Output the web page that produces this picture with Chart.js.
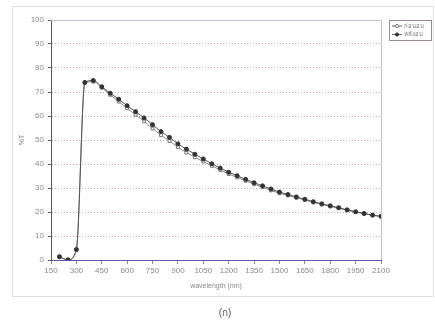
<!DOCTYPE html>
<html>
<head>
<meta charset="utf-8">
<script src="https://cdn.jsdelivr.net/npm/chart.js@4.4.1/dist/chart.umd.min.js"></script>
<style>
  html, body { margin: 0; padding: 0; background: #fff; }
  #wrap { position: relative; width: 435px; height: 320px; }
</style>
</head>
<body>
<div id="wrap"><canvas id="tChart" width="435" height="320"></canvas></div>
<script>
// wavelength (nm)
const wavelengths = [200, 250, 300, 350, 400, 450, 500, 550, 600, 650, 700, 750, 800, 850, 900, 950, 1000,
    1050, 1100, 1150, 1200, 1250, 1300, 1350, 1400, 1450, 1500, 1550, 1600, 1650, 1700, 1750, 1800, 1850,
    1900, 1950, 2000, 2050, 2100];
// %T before baking
const beforeBake = [1.2, 0, 4.2, 73.8, 74.3, 71.8, 68.8, 66.0, 63.2, 60.5, 57.8, 54.8, 52.0, 49.6, 47.0, 44.8, 42.8,
    41.0, 39.2, 37.5, 35.8, 34.4, 33.0, 31.6, 30.3, 29.0, 27.8, 26.9, 25.9, 25.0, 24.0, 23.1, 22.3, 21.6,
    20.7, 20.0, 19.3, 18.6, 18.1];
// %T after baking
const afterBake = [1.4, 0.1, 4.4, 74.0, 74.8, 72.2, 69.5, 67.0, 64.3, 61.8, 59.2, 56.4, 53.5, 51.1, 48.4, 46.2, 44.1,
    42.1, 40.1, 38.3, 36.6, 35.1, 33.6, 32.2, 30.9, 29.6, 28.3, 27.3, 26.3, 25.3, 24.3, 23.4, 22.6, 21.8,
    20.9, 20.1, 19.4, 18.7, 18.2];
const seriesNames = ['ก่อนอบ', 'หลังอบ'];
const xTicks = [150, 300, 450, 600, 750, 900, 1050, 1200, 1350, 1500, 1650, 1800, 1950, 2100];
const yTicks = [0, 10, 20, 30, 40, 50, 60, 70, 80, 90, 100];

const FONT = '"Liberation Sans", "Noto Sans", sans-serif';

function toPoints(ys) {
    return wavelengths.map((w, i) => ({x: w, y: ys[i]}));
}

// frame, plot border, legend and caption
const decor = {
    id: 'decor',
    beforeDraw(chart) {
        const ctx = chart.ctx;
        ctx.save();
        ctx.fillStyle = '#fff';
        ctx.fillRect(0, 0, chart.width, chart.height);
        ctx.strokeStyle = '#c8b8c0';
        ctx.lineWidth = 1;
        ctx.setLineDash([1, 1]);
        ctx.strokeRect(12.5, 6.5, 421, 290);
        ctx.restore();
    },
    afterDatasetsDraw(chart) {
        const ctx = chart.ctx;
        const a = chart.chartArea;
        ctx.save();
        // top and right plot border
        ctx.strokeStyle = '#c6bcd8';
        ctx.lineWidth = 1;
        ctx.beginPath();
        ctx.moveTo(a.left, a.top + 0.5);
        ctx.lineTo(a.right + 0.5, a.top + 0.5);
        ctx.lineTo(a.right + 0.5, a.bottom);
        ctx.stroke();

        // legend box
        const lx = 389, ly = 20, lw = 42, lh = 20;
        ctx.strokeStyle = '#9a8aa0';
        ctx.strokeRect(lx + 0.5, ly + 0.5, lw, lh);
        ctx.font = '6px ' + FONT;
        ctx.textBaseline = 'middle';
        ctx.fillStyle = '#777';
        chart.data.datasets.forEach((ds, i) => {
            const y = ly + 6 + i * 8.5;
            ctx.strokeStyle = '#666';
            ctx.beginPath();
            ctx.moveTo(lx + 3, y);
            ctx.lineTo(lx + 13, y);
            ctx.stroke();
            ctx.beginPath();
            ctx.arc(lx + 8, y, 1.6, 0, Math.PI * 2);
            ctx.fillStyle = ds.pointBackgroundColor;
            ctx.fill();
            ctx.strokeStyle = ds.pointBorderColor;
            ctx.stroke();
            ctx.fillStyle = '#777';
            ctx.fillText(ds.label, lx + 15, y);
        });

        // caption
        ctx.font = '10px ' + FONT;
        ctx.fillStyle = '#555';
        ctx.textAlign = 'center';
        ctx.fillText('(ก)', 225, 313);
        ctx.restore();
    }
};

const tChart = new Chart(document.getElementById('tChart'), {
    type: 'line',
    data: {
        datasets: [{
            label: seriesNames[0],
            data: toPoints(beforeBake),
            order: 2,
            borderColor: '#8a8a8a',
            borderWidth: 1,
            pointStyle: 'rect',
            pointRadius: 2,
            pointBackgroundColor: '#fff',
            pointBorderColor: '#777',
            pointBorderWidth: 1,
            cubicInterpolationMode: 'monotone'
        }, {
            label: seriesNames[1],
            data: toPoints(afterBake),
            order: 1,
            borderColor: '#555',
            borderWidth: 1,
            pointStyle: 'circle',
            pointRadius: 2,
            pointBackgroundColor: '#333',
            pointBorderColor: '#333',
            pointBorderWidth: 1,
            cubicInterpolationMode: 'monotone'
        }]
    },
    options: {
        responsive: false,
        animation: false,
        layout: {padding: {left: 12, top: 20, right: 54, bottom: 24}},
        plugins: {
            legend: {display: false},
            tooltip: {enabled: false}
        },
        scales: {
            x: {
                type: 'linear',
                min: 150,
                max: 2100,
                afterBuildTicks: s => { s.ticks = xTicks.map(v => ({value: v})); },
                afterFit: s => { s.height = 36; },
                grid: {drawOnChartArea: false, tickLength: 4, color: '#8888aa'},
                border: {display: true, color: '#5a5ab0', width: 1},
                ticks: {
                    padding: 2,
                    maxRotation: 0,
                    autoSkip: false,
                    color: '#8a8a8a',
                    font: {family: FONT, size: 8},
                    callback: v => String(v)
                },
                title: {
                    display: true,
                    text: 'wavelength (nm)',
                    color: '#8a8a8a',
                    font: {family: FONT, size: 7},
                    padding: {top: 0, bottom: 6}
                }
            },
            y: {
                min: 0,
                max: 100,
                afterBuildTicks: s => { s.ticks = yTicks.map(v => ({value: v})); },
                afterFit: s => { s.width = 39; },
                grid: {
                    color: ctx => (ctx.tick && (ctx.tick.value === 0 || ctx.tick.value === 100)) ? 'rgba(0,0,0,0)' : '#c9a8b8',
                    tickColor: '#666',
                    tickLength: 3,
                    lineWidth: 1
                },
                border: {display: true, color: '#555', width: 1, dash: [1, 2]},
                ticks: {
                    padding: 4,
                    color: '#8a8a8a',
                    font: {family: FONT, size: 8}
                },
                title: {
                    display: true,
                    text: '%T',
                    color: '#8a8a8a',
                    font: {family: FONT, size: 7},
                    padding: {top: 6, bottom: 0}
                }
            }
        }
    },
    plugins: [decor]
});
</script>
</body>
</html>
